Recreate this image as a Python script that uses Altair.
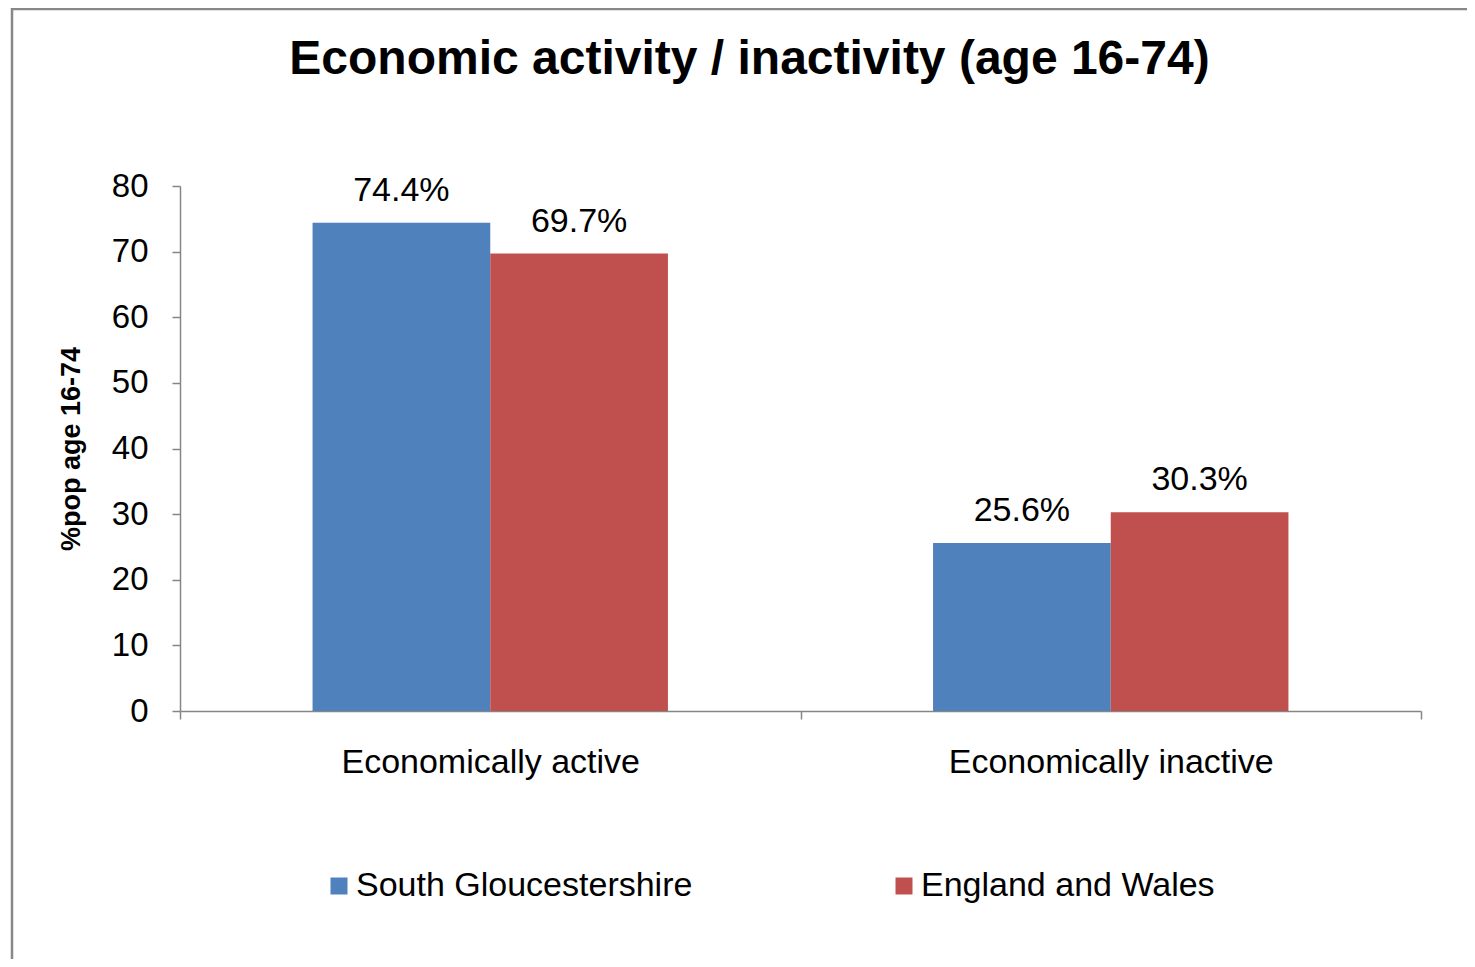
import altair as alt
import pandas as pd

categories = ["Economically active", "Economically inactive"]
areas = ["South Gloucestershire", "England and Wales"]
south_glos = [74.4, 25.6]
eng_wales = [69.7, 30.3]
colors = ["#4F81BD", "#C0504D"]

rows = []
for cat, a, b in zip(categories, south_glos, eng_wales):
    rows.append({"category": cat, "area": areas[0], "value": a, "label": f"{a}%"})
    rows.append({"category": cat, "area": areas[1], "value": b, "label": f"{b}%"})
df = pd.DataFrame(rows)

FONT = "Liberation Sans"
GREY = "#868686"

base = alt.Chart(df).encode(
    x=alt.X(
        "category:N",
        sort=categories,
        scale=alt.Scale(paddingInner=0, paddingOuter=0),
        axis=alt.Axis(
            title=None, labelAngle=0, tickBand="extent", tickSize=8,
            tickColor=GREY, domainColor=GREY, domainWidth=1.5, tickWidth=1.5,
            labelFont=FONT, labelFontSize=34, labelColor="black",
            labelPadding=26, labelBaseline="top", labelLimit=0,
        ),
    ),
    xOffset=alt.XOffset("area:N", sort=areas,
                        scale=alt.Scale(paddingInner=0, paddingOuter=0.746)),
    y=alt.Y(
        "value:Q",
        scale=alt.Scale(domain=[0, 80]),
        axis=alt.Axis(
            title="%pop age 16-74", values=list(range(0, 81, 10)), grid=False,
            tickSize=8, tickColor=GREY, domainColor=GREY, domainWidth=1.5, tickWidth=1.5,
            labelFont=FONT, labelFontSize=33, labelColor="black", labelPadding=24,
            titleFont=FONT, titleFontSize=27, titleFontWeight="bold", titleColor="black",
            titleX=-109, titleBaseline="middle",
        ),
    ),
)

bars = base.mark_bar().encode(
    color=alt.Color(
        "area:N", sort=areas,
        scale=alt.Scale(domain=areas, range=colors),
        legend=alt.Legend(
            title=None, orient="none", legendX=142, legendY=683,
            direction="horizontal", symbolType="square", symbolSize=289,
            symbolStrokeWidth=0, labelFont=FONT, labelFontSize=34,
            labelColor="black", labelOffset=0, columnPadding=194, labelLimit=0,
        ),
    )
)

labels = base.mark_text(
    dy=-22, baseline="alphabetic", align="center", font=FONT, fontSize=34, color="black"
).encode(text="label:N")

border = alt.Chart(alt.Data(values=[{"k": 1}])).mark_rect(
    fill=None, stroke="#888888", strokeWidth=2.5
).encode(
    x=alt.value(-168), x2=alt.value(2000), y=alt.value(-177), y2=alt.value(2000)
)

chart = alt.layer(border, bars, labels).properties(
    width=1241,
    height=525,
    autosize=alt.AutoSizeParams(type="none"),
    padding={"left": 172, "top": 178, "right": 46, "bottom": 248},
    title=alt.TitleParams(
        "Economic activity / inactivity (age 16-74)",
        font=FONT, fontSize=48, fontWeight="bold", color="black",
        anchor="middle", dx=-51, offset=-114, baseline="alphabetic",
    ),
).configure(background="white").configure_view(stroke=None)

chart.save("out.html", embed_options={"renderer": "svg", "actions": False})
